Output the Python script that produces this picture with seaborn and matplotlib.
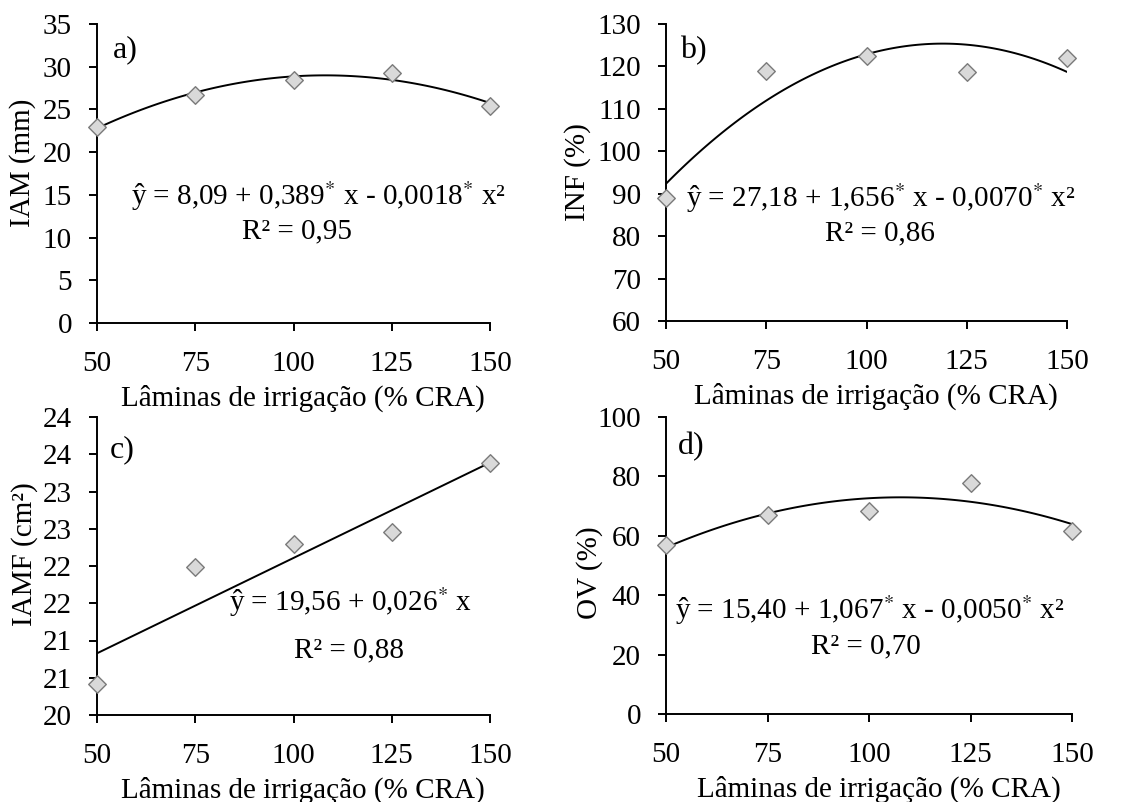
import numpy as np
import pandas as pd
import matplotlib
matplotlib.use("Agg")
import matplotlib.pyplot as plt
import seaborn as sns

# ---------------- data ----------------
laminas = [50, 75, 100, 125, 150]
iam = [23.0, 26.7, 28.45, 29.3, 25.4]          # a) IAM (mm)
inf = [88.9, 119.0, 122.4, 118.7, 122.0]       # b) INF (%)
iamf = [20.42, 21.98, 22.30, 22.46, 23.38]     # c) IAMF (cm2)
ov = [57.0, 67.1, 68.2, 77.8, 61.5]            # d) OV (%)

x_ticks = [50, 75, 100, 125, 150]
a_yticks = [0, 5, 10, 15, 20, 25, 30, 35]
b_yticks = [60, 70, 80, 90, 100, 110, 120, 130]
c_yticks = [20, 20.5, 21, 21.5, 22, 22.5, 23, 23.5, 24]
c_yticklabels = ["20", "21", "21", "22", "22", "23", "23", "24", "24"]
d_yticks = [0, 20, 40, 60, 80, 100]

xlabel = "Lâminas de irrigação (% CRA)"
ylabels = ["IAM (mm)", "INF (%)", "IAMF (cm²)", "OV (%)"]
panel_tags = ["a)", "b)", "c)", "d)"]
equations = [
    r"ŷ = 8,09 + 0,389$^{*}$ x - 0,0018$^{*}$ x²",
    r"ŷ = 27,18 + 1,656$^{*}$ x - 0,0070$^{*}$ x²",
    r"ŷ = 19,56 + 0,026$^{*}$ x",
    r"ŷ = 15,40 + 1,067$^{*}$ x - 0,0050$^{*}$ x²",
]
r2_texts = ["R² = 0,95", "R² = 0,86", "R² = 0,88", "R² = 0,70"]
orders = [2, 2, 1, 2]

# ---------------- style ----------------
sns.set_theme(style="ticks")
plt.rcParams["font.family"] = ["Liberation Serif", "DejaVu Serif"]
plt.rcParams["mathtext.fontset"] = "stix"
FS = 21

W, H = 1144, 802
fig = plt.figure(figsize=(W / 100, H / 100), dpi=100)
fig.patch.set_facecolor("white")

# panel boxes in pixels: left, right, top, bottom
boxes = [
    (97, 490, 24, 323),
    (666, 1067, 24, 321),
    (97, 490, 417, 715),
    (666, 1072, 417, 714),
]
series = [iam, inf, iamf, ov]
ylims = [(0, 35), (60, 130), (20, 24), (0, 100)]
yticks = [a_yticks, b_yticks, c_yticks, d_yticks]
eq_pos = [(106.3, 14.8), (103.5, 88.9), (114.4, 21.52), (100.1, 35.1)]
r2_pos = [(101.0, 10.7), (103.4, 80.6), (114.1, 20.87), (99.3, 22.8)]
tag_pos = [(0.04, 0.913), (0.036, 0.912), (0.033, 0.889), (0.03, 0.90)]
ylab_x = [23, 578, 25, 590]
ylab_y = [0.535, 0.50, 0.54, 0.476]

for i in range(4):
    l, r, t, b = boxes[i]
    ax = fig.add_axes([l / W, 1 - b / H, (r - l) / W, (b - t) / H])
    ax.set_facecolor("white")
    df = pd.DataFrame({"x": laminas, "y": series[i]})
    sns.regplot(data=df, x="x", y="y", order=orders[i], ci=None, scatter=False,
                truncate=True, ax=ax,
                line_kws=dict(color="black", lw=1.4, zorder=2))
    sns.scatterplot(data=df, x="x", y="y", ax=ax, marker="D", s=80,
                    color="#d9d9d9", edgecolor="#7a7a7a", linewidth=1.0,
                    zorder=3, clip_on=False, legend=False)
    ax.set_xlim(50, 150)
    ax.set_ylim(*ylims[i])
    ax.set_xticks(x_ticks)
    ax.set_yticks(yticks[i])
    if i == 2:
        ax.set_yticklabels(c_yticklabels)
    ax.set_xlabel("")
    ax.set_ylabel("")
    for s in ["top", "right"]:
        ax.spines[s].set_visible(False)
    for s in ["left", "bottom"]:
        ax.spines[s].set_color("black")
        ax.spines[s].set_linewidth(1.4)
    ax.tick_params(axis="x", direction="out", length=6, width=1.4,
                   color="black", labelsize=FS, pad=14, labelcolor="black")
    ax.tick_params(axis="y", direction="out", length=6, width=1.4,
                   color="black", labelsize=FS, pad=12, labelcolor="black")
    # x label
    ax.text(0.524, -75 / (b - t), xlabel, transform=ax.transAxes,
            ha="center", va="center", fontsize=FS, color="black")
    # y label
    ax.text((ylab_x[i] - l) / (r - l), ylab_y[i], ylabels[i],
            transform=ax.transAxes, rotation=90, ha="center", va="center",
            fontsize=FS, color="black")
    # panel tag
    ax.text(tag_pos[i][0], tag_pos[i][1], panel_tags[i], transform=ax.transAxes,
            ha="left", va="center", fontsize=23, color="black")
    # equation and R2
    ax.text(eq_pos[i][0], eq_pos[i][1], equations[i], ha="center", va="center",
            fontsize=FS, color="black", clip_on=False)
    ax.text(r2_pos[i][0], r2_pos[i][1], r2_texts[i], ha="center", va="center",
            fontsize=FS, color="black", clip_on=False)

fig.savefig("out.png", dpi=100, facecolor="white")
